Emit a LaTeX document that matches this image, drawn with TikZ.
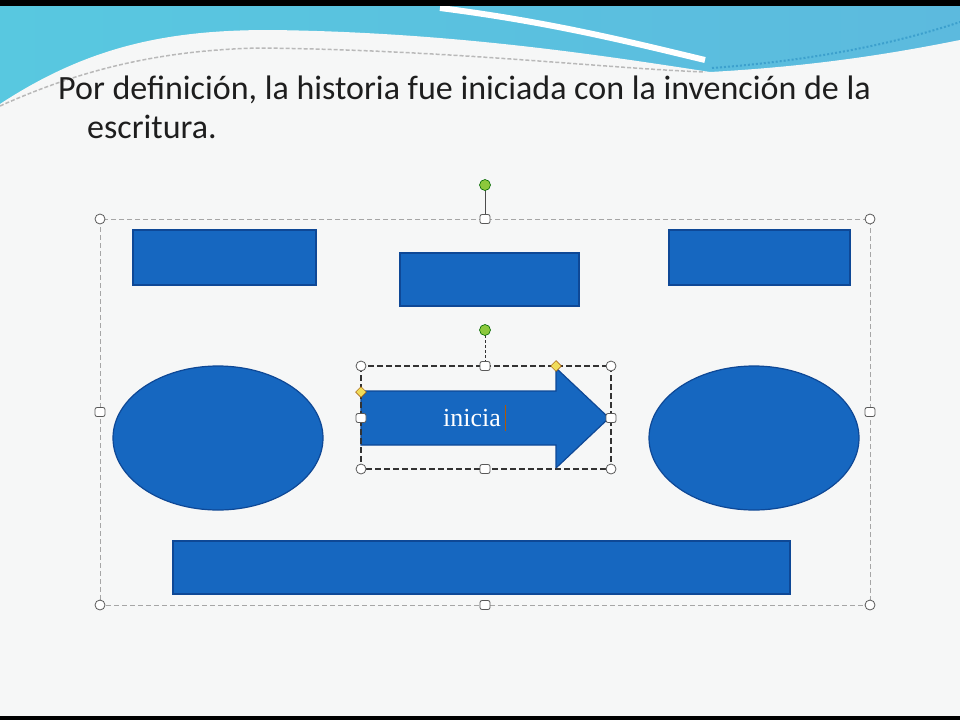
\documentclass[tikz,border=0pt]{standalone}
\usepackage{fontspec}
\setmainfont{Carlito}
\newfontfamily\shapefont{Liberation Serif}
\usetikzlibrary{shapes.geometric}

\definecolor{slidebg}{RGB}{246,247,247}
\definecolor{hdrA}{RGB}{88,200,224}
\definecolor{hdrB}{RGB}{150,212,232}
\definecolor{hdrC}{RGB}{92,186,222}
\definecolor{hdrD}{RGB}{60,160,205}
\definecolor{shapeblue}{RGB}{22,103,192}
\definecolor{shapeedge}{RGB}{14,72,150}
\definecolor{rotgreen}{RGB}{140,200,60}
\definecolor{adjyellow}{RGB}{240,220,90}
\definecolor{titletext}{RGB}{30,30,30}

\tikzset{
  shapebox/.style={draw=shapeedge,fill=shapeblue,line width=1.2pt,inner sep=0pt},
  cornerhandle/.style={circle,draw=gray!70!black,fill=white,line width=0.8pt,inner sep=0pt,minimum size=10pt},
  sidehandle/.style={rectangle,rounded corners=2pt,draw=gray!70!black,fill=white,line width=0.8pt,inner sep=0pt,minimum width=10pt,minimum height=9pt},
  rothandle/.style={circle,draw=green!40!black,fill=rotgreen,line width=0.6pt,inner sep=0pt,minimum size=11pt},
  adjhandle/.style={diamond,draw=orange!60!black,fill=adjyellow,line width=0.5pt,inner sep=0pt,minimum size=11pt},
  groupframe/.style={draw=gray!70,line width=0.8pt,dash pattern=on 5pt off 3pt},
  arrowframe/.style={draw=gray!40!black,line width=1.1pt,dash pattern=on 6pt off 3pt}
}

\begin{document}
\begin{tikzpicture}[x=1pt,y=-1pt]

        \useasboundingbox (0,0) rectangle (960,720);
        \fill[slidebg] (0,0) rectangle (960,720);

        % header
        \shade[left color=hdrA,middle color=hdrB,right color=hdrC] (0,6) rectangle (960,110);
        \fill[slidebg] (0,125) -- (0,104) .. controls (90,45) and (170,30) .. (270,30) .. controls (450,32) and (600,55) .. (710,72) .. controls (820,66) and (900,52) .. (960,40) -- (960,125) -- cycle;
        \draw[white,line width=6pt] (440,8) .. controls (550,22) and (630,42) .. (705,60);
        \draw[gray!55,line width=1.5pt,dash pattern=on 4pt off 2pt] (0,106) .. controls (80,70) and (160,50) .. (260,48) .. controls (450,50) and (600,68) .. (705,72);
        \draw[hdrD,line width=2pt,dash pattern=on 2pt off 2pt] (712,68) .. controls (820,60) and (900,42) .. (960,22);
        \fill[black] (0,0) rectangle (960,6);
        \fill[black] (0,716) rectangle (960,720);

        \node[anchor=base west,text=titletext,inner sep=0pt] (title1) at (58,99) {\fontsize{34}{40}\selectfont Por definición, la historia fue iniciada con la invención de la};
        \node[anchor=base west,text=titletext,inner sep=0pt] (title2) at (87,138) {\fontsize{34}{40}\selectfont escritura.};

        % shapes
        \node[shapebox,minimum width=183pt,minimum height=55pt] (topleft) at (224.5,257.5) {};
        \node[shapebox,minimum width=179pt,minimum height=53pt] (topmid) at (489.5,279.5) {};
        \node[shapebox,minimum width=181pt,minimum height=55pt] (topright) at (759.5,257.5) {};
        \node[shapebox,ellipse,minimum width=210pt,minimum height=144pt] (leftoval) at (218,438) {};
        \node[shapebox,ellipse,minimum width=210pt,minimum height=144pt] (rightoval) at (754,438) {};
        \node[shapebox,minimum width=617pt,minimum height=53pt] (bottombar) at (481.5,567.5) {};

        \draw[shapebox] (361,391) -- (556,391) -- (556,368) -- (609,418) -- (556,468) -- (556,445) -- (361,445) -- cycle;
        \node[text=white,font=\shapefont\fontsize{26}{30}\selectfont] (inicia) at (472,418) {inicia};
        \draw[orange!70!black,line width=1pt] ([xshift=1pt]inicia.east |- 0,405) -- ([xshift=1pt]inicia.east |- 0,431);

        % group selection
        \draw[groupframe] (100,219) rectangle (870,605);
        \draw[gray!60!black,line width=0.8pt] (485,185) -- (485,219);
        \foreach \px/\py [count=\i] in {100/219,870/219,100/605,870/605}
          \node[cornerhandle] (gc\i) at (\px,\py) {};
        \foreach \px/\py [count=\i] in {485/219,485/605,100/412,870/412}
          \node[sidehandle] (gs\i) at (\px,\py) {};
        \node[rothandle] (grot) at (485,185) {};

        % arrow selection
        \draw[arrowframe] (361,366) rectangle (611,469);
        \draw[gray!40!black,line width=1pt,dash pattern=on 3pt off 2pt] (485,330) -- (485,366);
        \foreach \px/\py [count=\i] in {361/366,611/366,361/469,611/469}
          \node[cornerhandle] (ac\i) at (\px,\py) {};
        \foreach \px/\py [count=\i] in {485/366,485/469,361/418,611/418}
          \node[sidehandle] (as\i) at (\px,\py) {};
        \node[rothandle] (arot) at (485,330) {};
        \node[adjhandle] (adj1) at (361,392) {};
        \node[adjhandle] (adj2) at (556,366) {};

\end{tikzpicture}
\end{document}
